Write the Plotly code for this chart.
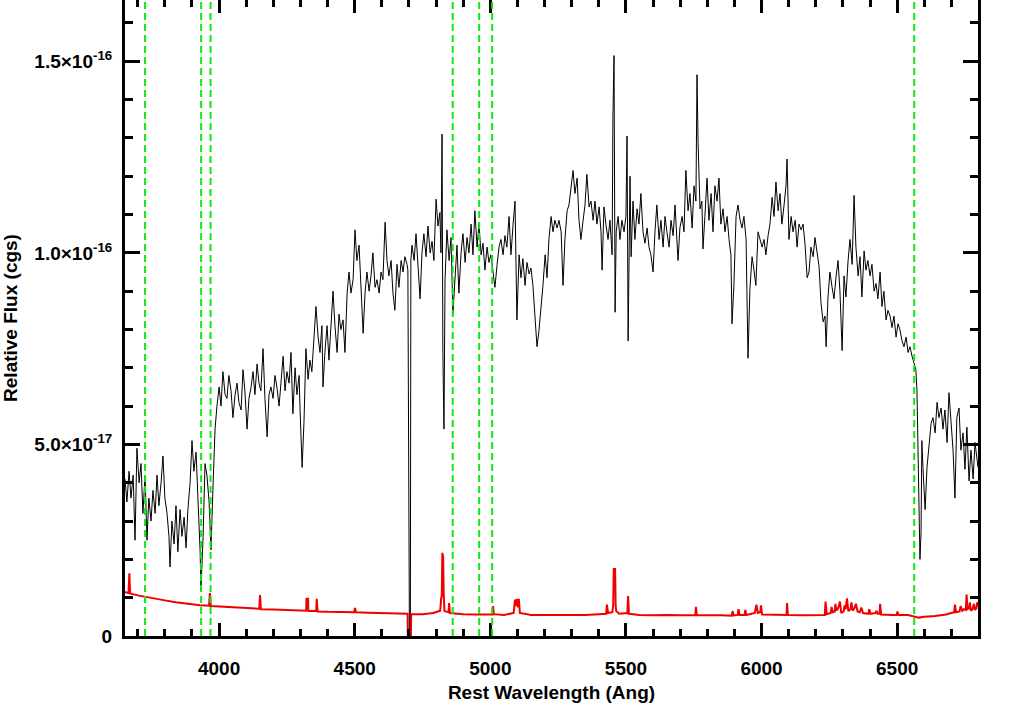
import plotly.graph_objects as go

# ---------------- data (flux in units of 1e-17 cgs) ----------------
black_wave = [
    3653, 3660, 3668, 3675, 3683, 3690, 3697, 3705, 3712, 3719,
    3727, 3734, 3741, 3749, 3756, 3764, 3771, 3778, 3786, 3793,
    3800, 3808, 3815, 3819, 3826, 3834, 3841, 3848, 3856, 3863,
    3871, 3878, 3885, 3893, 3900, 3907, 3915, 3922, 3930, 3933,
    3941, 3948, 3955, 3963, 3970, 3977, 3985, 3992,
    4000, 4007, 4014, 4022, 4029, 4036, 4044, 4051, 4059, 4066,
    4073, 4081, 4088, 4095, 4103, 4110, 4118, 4125, 4132, 4140,
    4147, 4154, 4162, 4169, 4177, 4184, 4191, 4199, 4206, 4213,
    4221, 4228, 4236, 4243, 4250, 4258, 4265, 4272, 4280, 4287,
    4295, 4298, 4306, 4313, 4320, 4328, 4335, 4342, 4350, 4357,
    4365, 4372, 4379, 4383, 4390, 4398, 4405, 4413, 4420, 4427,
    4435, 4442, 4449, 4457, 4464, 4472, 4479, 4486, 4494, 4501,
    4508, 4516, 4523, 4531, 4538, 4545, 4553, 4560, 4567, 4575,
    4582, 4590, 4597, 4604, 4612, 4619, 4626, 4634, 4641, 4648,
    4656, 4663, 4671, 4678, 4685, 4693, 4696, 4700, 4702, 4705,
    4707, 4711, 4719, 4726, 4733, 4741, 4748, 4755, 4763, 4770,
    4778, 4785, 4792, 4800, 4807, 4814, 4818, 4822, 4825, 4829,
    4833, 4840, 4848, 4855, 4862, 4870, 4877, 4884, 4892, 4899,
    4907, 4914, 4921, 4929, 4936, 4943, 4951, 4958, 4966, 4973,
    4980, 4988, 4995, 5002, 5010, 5017, 5025, 5032, 5039, 5047,
    5054, 5061, 5069, 5076, 5084, 5091, 5098, 5106, 5113, 5120,
    5128, 5135, 5143, 5150, 5157, 5165, 5172, 5179, 5187, 5194,
    5202, 5209, 5216, 5224, 5231, 5238, 5246, 5253, 5261, 5268,
    5275, 5283, 5290, 5297, 5305, 5312, 5320, 5327, 5334, 5342,
    5349, 5356, 5364, 5371, 5379, 5386, 5393, 5401, 5408, 5412,
    5419, 5426, 5434, 5441, 5449, 5452, 5456, 5460, 5464, 5471,
    5478, 5485, 5493, 5500, 5504, 5508, 5511, 5515, 5519, 5526,
    5533, 5541, 5548, 5555, 5563, 5570, 5578, 5585, 5592, 5600,
    5607, 5614, 5622, 5629, 5637, 5644, 5651, 5659, 5666, 5674,
    5681, 5688, 5692, 5699, 5707, 5714, 5721, 5729, 5736, 5744,
    5751, 5758, 5762, 5766, 5773, 5780, 5784, 5791, 5799, 5806,
    5814, 5821, 5828, 5836, 5843, 5850, 5858, 5865, 5873, 5880,
    5887, 5891, 5898, 5906, 5913, 5921, 5928, 5935, 5943, 5946,
    5950, 5957, 5965, 5972, 5979, 5987, 5994, 6002, 6009, 6016,
    6024, 6031, 6039, 6046, 6053, 6061, 6068, 6075, 6083, 6090,
    6094, 6101, 6109, 6116, 6124, 6131, 6138, 6146, 6153, 6160,
    6168, 6175, 6182, 6190, 6197, 6204, 6212, 6219, 6227, 6234,
    6238, 6245, 6252, 6260, 6267, 6275, 6282, 6289, 6297, 6304,
    6311, 6319, 6326, 6334, 6341, 6348, 6356, 6363, 6370, 6378,
    6385, 6392, 6400, 6407, 6415, 6422, 6429, 6437, 6444, 6451,
    6459, 6466, 6474, 6481, 6488, 6496, 6503, 6510, 6518, 6525,
    6533, 6540, 6547, 6555, 6562, 6569, 6573, 6577, 6580, 6584,
    6588, 6591, 6595, 6603, 6610, 6617, 6625, 6632, 6640, 6647,
    6654, 6662, 6669, 6676, 6684, 6691, 6698, 6706, 6713, 6720,
    6728, 6735, 6743, 6750, 6757, 6765, 6772, 6780, 6787, 6794,
    6798,
]
black_flux = [
    4.1, 3.5, 4.3, 3.6, 4.2, 2.5, 4.9, 4.0, 4.5, 3.2,
    4.2, 2.5, 3.6, 3.0, 3.8, 3.2, 4.2, 3.4, 4.0, 4.7,
    3.6, 3.2, 2.6, 1.8, 3.0, 2.4, 3.4, 2.2, 3.3, 2.6,
    3.1, 2.3, 3.3, 4.0, 5.1, 4.3, 4.8, 3.6, 2.2, 1.2,
    2.6, 4.5, 4.2, 3.5, 2.25, 3.8, 5.4, 6.0,
    6.5, 6.0, 6.9, 6.3, 6.2, 6.8, 6.4, 5.7, 6.3, 6.6,
    6.1, 5.9, 6.95, 6.4, 5.4, 6.2, 6.5, 6.9, 6.3, 7.1,
    6.6, 6.4, 7.5, 6.2, 5.2, 6.3, 6.5, 6.2, 6.8, 6.5,
    6.0, 6.6, 7.3, 6.4, 6.9, 6.6, 7.4, 5.8, 7.0, 6.3,
    6.8, 6.0, 4.4, 5.6, 7.5, 6.7, 7.2, 6.9, 7.8, 8.6,
    7.8, 7.4, 8.1, 6.5, 7.4, 8.1, 7.2, 8.25, 9.0, 8.1,
    7.4, 8.4, 8.0, 8.25, 7.4, 8.95, 9.5, 8.95, 9.3, 10.6,
    9.8, 10.2, 8.95, 7.9, 8.95, 9.5, 9.0, 9.4, 10.0, 9.1,
    9.3, 8.95, 9.5, 9.3, 10.8, 9.8, 9.4, 9.8, 8.95, 8.5,
    9.7, 9.1, 9.8, 9.5, 9.9, 9.7, 9.55, 4.5, -0.5, -0.5,
    9.8, 10.2, 9.8, 10.5, 9.7, 8.8, 10.0, 10.5, 9.9, 10.7,
    10.0, 10.3, 9.8, 11.4, 10.7, 11.05, 10.0, 13.1, 7.4, 5.4,
    9.3, 10.6, 9.8, 10.4, 8.4, 9.5, 10.2, 8.95, 10.0, 10.5,
    9.75, 10.4, 10.0, 10.75, 9.95, 11.1, 10.15, 10.75, 9.95, 10.25,
    9.55, 10.15, 9.75, 9.95, 9.55, 9.1, 9.7, 10.15, 10.35, 9.95,
    10.45, 10.15, 10.95, 9.95, 10.75, 11.35, 8.25, 9.95, 9.35, 9.85,
    9.15, 9.75, 9.45, 9.6, 9.15, 8.35, 7.55, 7.95, 8.55, 9.15,
    9.95, 9.35, 10.35, 10.95, 10.55, 10.85, 10.65, 10.85, 10.55, 9.15,
    10.35, 11.1, 11.25, 11.75, 12.15, 11.55, 11.95, 10.85, 10.35, 10.85,
    11.25, 12.05, 11.2, 11.35, 10.85, 11.35, 10.75, 11.2, 10.55, 9.55,
    11.2, 10.75, 10.35, 10.85, 9.95, 13.55, 15.15, 8.45, 10.55, 10.95,
    10.35, 10.85, 10.55, 10.95, 13.05, 7.7, 9.95, 12.0, 9.9, 11.35,
    10.35, 11.15, 10.75, 11.55, 10.55, 10.25, 10.65, 10.15, 9.95, 9.5,
    10.55, 11.25, 10.35, 10.85, 10.15, 10.95, 10.55, 10.15, 10.85, 10.45,
    11.25, 10.35, 9.8, 10.65, 10.95, 10.55, 12.15, 11.1, 11.55, 10.65,
    11.75, 11.35, 14.65, 12.85, 11.15, 11.35, 10.1, 10.95, 11.95, 10.85,
    11.55, 10.55, 11.75, 11.35, 11.95, 10.75, 11.15, 10.55, 10.95, 10.35,
    9.95, 8.15, 9.15, 10.95, 11.25, 10.85, 10.65, 10.95, 10.35, 9.0,
    7.25, 9.05, 9.9, 9.55, 9.15, 10.55, 10.35, 10.15, 10.35, 9.95,
    10.45, 10.75, 11.45, 10.95, 11.85, 11.1, 11.55, 10.75, 11.25, 11.75,
    12.45, 10.35, 10.95, 10.55, 10.85, 10.15, 10.75, 10.6, 10.75, 10.25,
    9.35, 9.5, 10.15, 9.9, 10.4, 10.05, 9.65, 8.7, 8.2, 8.35,
    7.55, 8.85, 9.5, 9.1, 8.8, 9.4, 9.8, 9.0, 7.45, 9.4,
    8.85, 9.8, 10.35, 9.7, 11.5, 10.15, 9.4, 9.9, 8.85, 10.05,
    9.55, 9.8, 9.4, 9.7, 9.0, 9.2, 8.8, 9.5, 8.6, 9.0,
    8.25, 8.5, 8.35, 8.05, 8.35, 7.8, 8.15, 8.0, 7.7, 7.55,
    7.8, 7.4, 7.55, 7.3, 7.1, 6.95, 6.4, 4.85, 3.1, 2.0,
    2.7, 5.1, 4.4, 3.3, 4.4, 5.05, 5.55, 5.7, 5.3, 6.1,
    5.7, 5.95, 5.4, 5.9, 5.05, 6.35, 5.7, 4.85, 3.6, 5.7,
    5.95, 4.85, 5.3, 4.35, 5.45, 4.05, 4.85, 4.1, 5.05, 4.6,
    4.4,
]

red_wave = [
    3653, 3666, 3669, 3672, 3700, 3727, 3760, 3800, 3840, 3880,
    3930, 3963, 3966, 3969, 4000, 4050, 4100, 4148, 4151, 4154,
    4200, 4250, 4300, 4321, 4322, 4328, 4329, 4358, 4360, 4363,
    4400, 4450, 4498, 4501, 4505, 4550, 4600, 4650, 4695, 4697,
    4706, 4708, 4750, 4790, 4815, 4819, 4821, 4823, 4826, 4828,
    4831, 4846, 4848, 4851, 4900, 4950, 5000, 5008, 5010, 5013,
    5050, 5086, 5091, 5095, 5098, 5102, 5105, 5109, 5150, 5200,
    5250, 5300, 5350, 5400, 5427, 5430, 5434, 5450, 5453, 5455,
    5460, 5462, 5464, 5475, 5500, 5505, 5508, 5511, 5550, 5600,
    5650, 5700, 5756, 5758, 5761, 5800, 5850, 5890, 5893, 5897,
    5912, 5915, 5919, 5937, 5940, 5944, 5975, 5981, 5986, 5995,
    5998, 6002, 6050, 6092, 6094, 6097, 6150, 6200, 6233, 6236,
    6240, 6255, 6258, 6263, 6270, 6272, 6276, 6282, 6289, 6294,
    6303, 6306, 6310, 6315, 6320, 6328, 6331, 6336, 6342, 6348,
    6354, 6362, 6368, 6374, 6394, 6397, 6402, 6420, 6424, 6428,
    6435, 6437, 6441, 6480, 6498, 6501, 6505, 6540, 6560, 6580,
    6600, 6640, 6680, 6700, 6710, 6713, 6717, 6730, 6734, 6740,
    6746, 6753, 6756, 6759, 6765, 6768, 6772, 6778, 6783, 6787,
    6792, 6795, 6798,
]
red_flux = [
    1.15, 1.12, 1.64, 1.11, 1.06, 1.03, 0.98, 0.93, 0.88, 0.84,
    0.80, 0.79, 1.12, 0.78, 0.77, 0.74, 0.72, 0.71, 1.07, 0.70,
    0.69, 0.68, 0.66, 0.66, 0.97, 0.97, 0.65, 0.65, 0.97, 0.64,
    0.63, 0.62, 0.62, 0.73, 0.62, 0.61, 0.60, 0.59, 0.58, -1.0,
    -1.0, 0.57, 0.57, 0.60, 0.66, 1.0, 1.05, 2.17, 2.05, 1.1,
    0.65, 0.62, 0.86, 0.60, 0.57, 0.56, 0.56, 0.56, 0.78, 0.57,
    0.55, 0.60, 0.95, 0.78, 0.97, 0.75, 0.97, 0.60, 0.55, 0.55,
    0.55, 0.55, 0.55, 0.57, 0.58, 0.82, 0.60, 0.62, 0.80, 1.75,
    1.75, 0.80, 0.65, 0.58, 0.60, 0.60, 1.04, 0.58, 0.55, 0.54,
    0.55, 0.54, 0.55, 0.76, 0.55, 0.55, 0.54, 0.53, 0.65, 0.54,
    0.55, 0.70, 0.55, 0.55, 0.68, 0.55, 0.60, 0.82, 0.60, 0.62,
    0.80, 0.56, 0.55, 0.55, 0.86, 0.55, 0.54, 0.54, 0.55, 0.90,
    0.57, 0.60, 0.76, 0.62, 0.64, 0.84, 0.66, 0.72, 0.90, 0.60,
    0.65, 0.80, 0.70, 0.98, 0.65, 0.70, 0.88, 0.66, 0.72, 0.84,
    0.64, 0.62, 0.74, 0.60, 0.58, 0.70, 0.58, 0.60, 0.66, 0.58,
    0.58, 0.84, 0.56, 0.55, 0.55, 0.64, 0.55, 0.55, 0.52, 0.48,
    0.50, 0.52, 0.56, 0.60, 0.62, 0.82, 0.62, 0.64, 0.78, 0.66,
    0.70, 0.68, 1.08, 0.70, 0.72, 0.88, 0.66, 0.70, 0.84, 0.68,
    0.72, 0.88, 0.76,
]

line_waves = [3727.0, 3933.7, 3968.5, 4861.3, 4958.9, 5006.8, 6562.8]

y_tick_vals = [0, 5e-17, 1e-16, 1.5e-16]
y_tick_text = ["0", "5.0×10<sup>-17</sup>", "1.0×10<sup>-16</sup>", "1.5×10<sup>-16</sup>"]
x_tick_vals = [4000, 4500, 5000, 5500, 6000, 6500]
x_tick_text = ["4000", "4500", "5000", "5500", "6000", "6500"]

UNIT = 1e-17

# ---------------- figure ----------------
FONT = "Liberation Sans, Arial, Helvetica, sans-serif"
tickfont = dict(family=FONT, size=19, color="black", weight="bold")
titlefont = dict(family=FONT, size=19, color="black", weight="bold")

fig = go.Figure()
fig.add_trace(go.Scatter(
    x=black_wave, y=[v * UNIT for v in black_flux], mode="lines",
    line=dict(color="black", width=1), showlegend=False, hoverinfo="skip"))
fig.add_trace(go.Scatter(
    x=red_wave, y=[v * UNIT for v in red_flux], mode="lines",
    line=dict(color="rgb(240,0,0)", width=2), showlegend=False, hoverinfo="skip"))

for w in line_waves:
    fig.add_shape(type="line", xref="x", yref="paper", x0=w, x1=w, y0=0, y1=1,
                  line=dict(color="rgb(20,230,20)", width=2, dash="7px,4px"))

fig.update_layout(
    width=1020, height=706,
    margin=dict(l=125, r=42, t=0, b=70, pad=0),
    paper_bgcolor="white", plot_bgcolor="white",
    showlegend=False,
    xaxis=dict(
        range=[3653, 6798], showgrid=False, zeroline=False,
        showline=True, linewidth=3, linecolor="black", mirror="allticks",
        ticks="inside", ticklen=13, tickwidth=3, tickcolor="black",
        tickmode="array", tickvals=x_tick_vals, ticktext=x_tick_text,
        minor=dict(dtick=100, tick0=0, ticks="inside", ticklen=7, tickwidth=2.5, tickcolor="black", showgrid=False),
        tickfont=tickfont, ticklabelstandoff=13,
        title=dict(text="Rest Wavelength (Ang)", font=titlefont, standoff=8),
        automargin=False,
    ),
    yaxis=dict(
        range=[0, 16.6e-17], showgrid=False, zeroline=False,
        showline=True, linewidth=3, linecolor="black", mirror="allticks",
        ticks="inside", ticklen=15, tickwidth=3, tickcolor="black",
        tickmode="array", tickvals=y_tick_vals, ticktext=y_tick_text,
        minor=dict(dtick=1e-17, tick0=0, ticks="inside", ticklen=8, tickwidth=2.5, tickcolor="black", showgrid=False),
        tickfont=tickfont, ticklabelstandoff=6,
        title=dict(text="Relative Flux (cgs)", font=titlefont, standoff=16),
        automargin=False,
    ),
)

fig.write_html(
    "out.html",
    config={"displayModeBar": False},
    post_script="document.body.style.margin='0';document.body.style.overflow='hidden';",
)
